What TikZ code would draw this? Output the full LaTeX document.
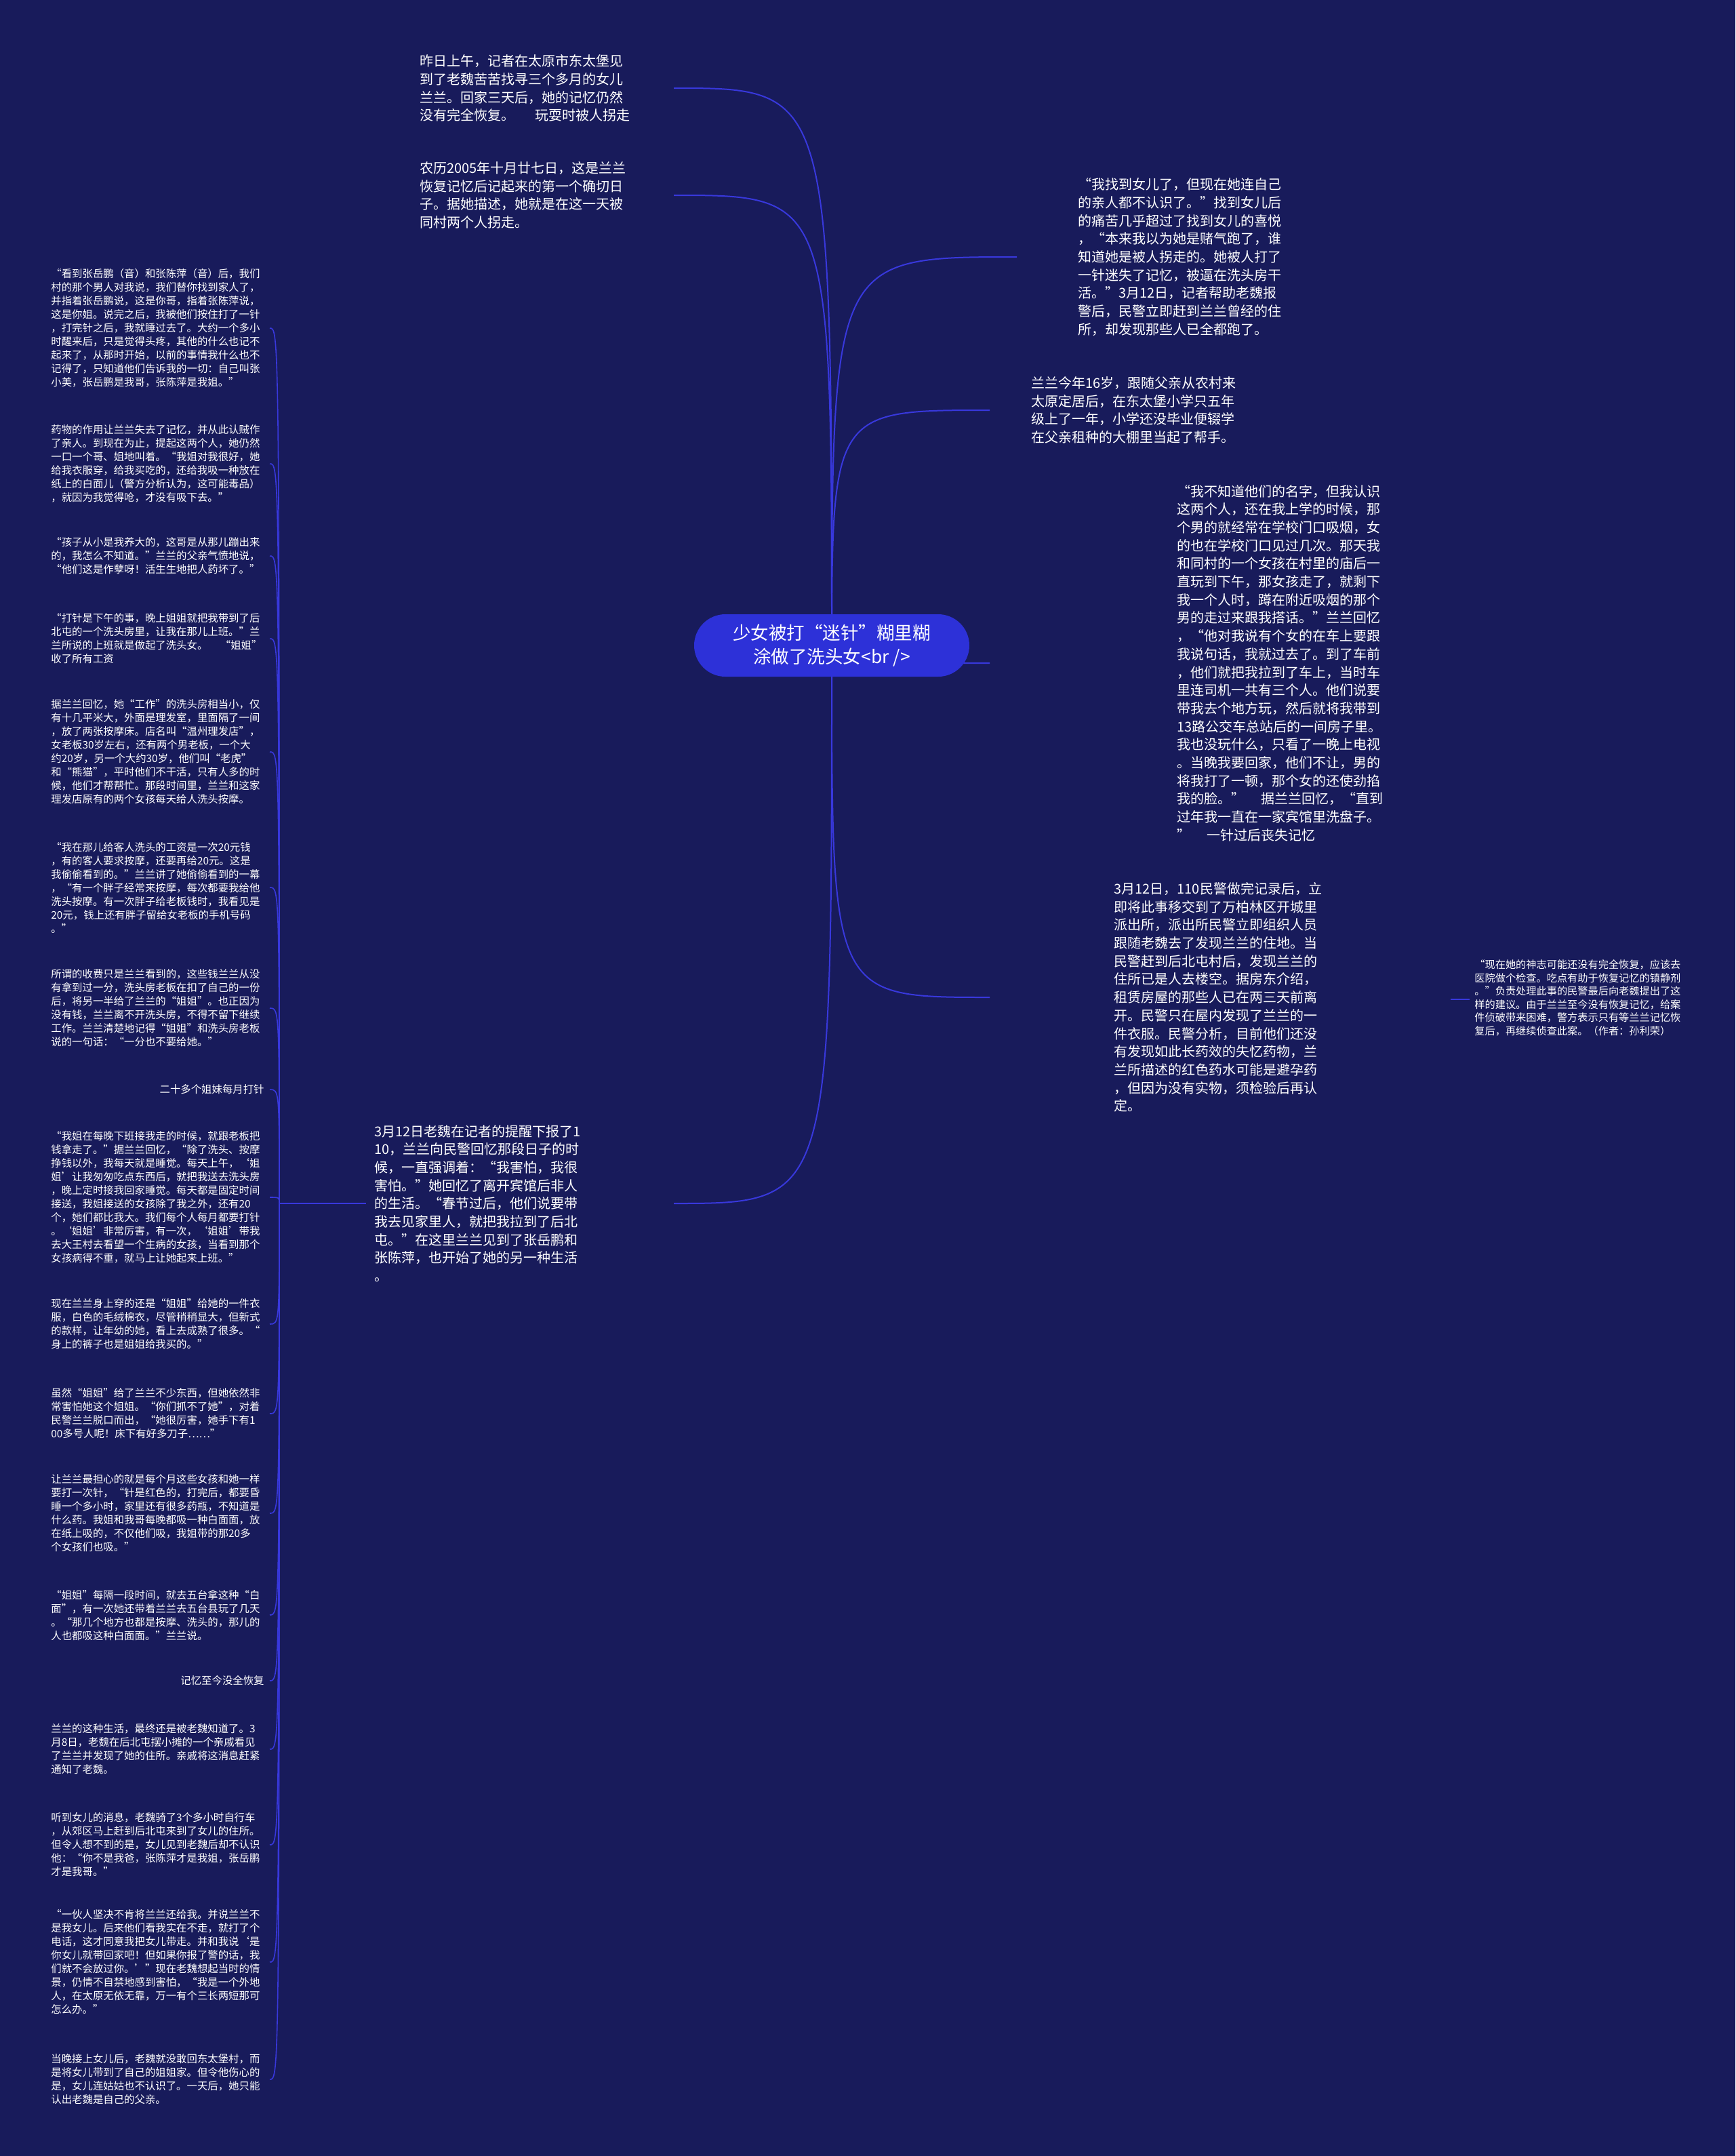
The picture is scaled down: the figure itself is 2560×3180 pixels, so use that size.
\documentclass[tikz,border=0pt]{standalone}
\usepackage{fontspec}
\setmainfont{Noto Sans CJK SC}
\newfontfamily\fwfont[RawFeature=+fwid]{Noto Sans CJK SC}
\usepackage{newunicodechar}
\newunicodechar{“}{{\fwfont\char"201C}}
\newunicodechar{”}{{\fwfont\char"201D}}
\newunicodechar{‘}{{\fwfont\char"2018}}
\newunicodechar{’}{{\fwfont\char"2019}}
\usepackage{tikz}
\usetikzlibrary{calc}

\definecolor{bgnavy}{HTML}{181B5B}
\definecolor{linkblue}{HTML}{3838DC}
\definecolor{rootblue}{HTML}{2D31D8}

\tikzset{
  leaf/.style={text=white, align=left, anchor=west, inner sep=0pt, font=\fontsize{10}{13.35}\selectfont},
  small leaf/.style={leaf, font=\fontsize{7.7}{10}\selectfont},
  tiny leaf/.style={leaf, font=\fontsize{7.6}{9.75}\selectfont},
  link/.style={draw=linkblue, line width=1pt},
  thin link/.style={draw=linkblue, line width=0.8pt},
  root/.style={rectangle, rounded corners=23pt, fill=rootblue, text=white, align=center, minimum width=203pt, minimum height=46pt, font=\fontsize{13.25}{17.5}\selectfont}
}

\begin{document}
\begin{tikzpicture}[x=0.5pt,y=-0.5pt]
\fill[bgnavy] (0,0) rectangle (2560,3180);
\useasboundingbox (0,0) rectangle (2560,3180);

% ends of the connectors
\coordinate (R) at (1227,975);
\coordinate (a1) at (994,130);
\coordinate (b1) at (994,288);
\coordinate (c1) at (1500,379);
\coordinate (d1) at (1460,605);
\coordinate (e1) at (1460,978);
\coordinate (f1) at (1460,1471);
\coordinate (h1) at (994,1775);
\coordinate (h2) at (540,1775);
\coordinate (J) at (412,1775);
\coordinate (f2) at (2140,1474);
\coordinate (g1) at (2168,1474);

\draw[link] (R) .. controls (R |- a1) .. (a1);
\draw[link] (R) .. controls (R |- b1) .. (b1);
\draw[link] (R) .. controls (R |- c1) .. (c1);
\draw[link] (R) .. controls (R |- d1) .. (d1);
\draw[link] (R) .. controls (R |- e1) .. (e1);
\draw[link] (R) .. controls (R |- f1) .. (f1);
\draw[link] (R) .. controls (R |- h1) .. (h1);
\draw[link] (f2) -- (g1);
\draw[thin link] (h2) -- (J);
\foreach \y in {484,684,820,942,1109,1309,1487,1607,1766,1953,2085,2232,2382,2479,2580,2721,2894,3067}
  \draw[thin link] (J) .. controls (412,\y) .. (398,\y);

% centre
\draw (1227,952) node[root] (C0) {少女被打“迷针”糊里糊\\涂做了洗头女<br />};

% first level
\draw (619,130) node[leaf] (A) {昨日上午，记者在太原市东太堡见\\到了老魏苦苦找寻三个多月的女儿\\兰兰。回家三天后，她的记忆仍然\\没有完全恢复。\hspace{1.5em}玩耍时被人拐走};
\draw (619,288) node[leaf] (B) {农历2005年十月廿七日，这是兰兰\\恢复记忆后记起来的第一个确切日\\子。据她描述，她就是在这一天被\\同村两个人拐走。};
\draw (1590,379) node[leaf] (C) {“我找到女儿了，但现在她连自己\\的亲人都不认识了。”找到女儿后\\的痛苦几乎超过了找到女儿的喜悦\\，“本来我以为她是赌气跑了，谁\\知道她是被人拐走的。她被人打了\\一针迷失了记忆，被逼在洗头房干\\活。”3月12日，记者帮助老魏报\\警后，民警立即赶到兰兰曾经的住\\所，却发现那些人已全都跑了。};
\draw (1521,605) node[leaf] (D) {兰兰今年16岁，跟随父亲从农村来\\太原定居后，在东太堡小学只五年\\级上了一年，小学还没毕业便辍学\\在父亲租种的大棚里当起了帮手。};
\draw (1736,978) node[leaf] (E) {“我不知道他们的名字，但我认识\\这两个人，还在我上学的时候，那\\个男的就经常在学校门口吸烟，女\\的也在学校门口见过几次。那天我\\和同村的一个女孩在村里的庙后一\\直玩到下午，那女孩走了，就剩下\\我一个人时，蹲在附近吸烟的那个\\男的走过来跟我搭话。”兰兰回忆\\，“他对我说有个女的在车上要跟\\我说句话，我就过去了。到了车前\\，他们就把我拉到了车上，当时车\\里连司机一共有三个人。他们说要\\带我去个地方玩，然后就将我带到\\13路公交车总站后的一间房子里。\\我也没玩什么，只看了一晚上电视\\。当晚我要回家，他们不让，男的\\将我打了一顿，那个女的还使劲掐\\我的脸。”\hspace{1.2em}据兰兰回忆，“直到\\过年我一直在一家宾馆里洗盘子。\\”\hspace{1.2em}一针过后丧失记忆};
\draw (1643,1471) node[leaf] (F) {3月12日，110民警做完记录后，立\\即将此事移交到了万柏林区开城里\\派出所，派出所民警立即组织人员\\跟随老魏去了发现兰兰的住地。当\\民警赶到后北屯村后，发现兰兰的\\住所已是人去楼空。据房东介绍，\\租赁房屋的那些人已在两三天前离\\开。民警只在屋内发现了兰兰的一\\件衣服。民警分析，目前他们还没\\有发现如此长药效的失忆药物，兰\\兰所描述的红色药水可能是避孕药\\，但因为没有实物，须检验后再认\\定。};
\draw (2175,1472) node[tiny leaf] (G) {“现在她的神志可能还没有完全恢复，应该去\\医院做个检查。吃点有助于恢复记忆的镇静剂\\。”负责处理此事的民警最后向老魏提出了这\\样的建议。由于兰兰至今没有恢复记忆，给案\\件侦破带来困难，警方表示只有等兰兰记忆恢\\复后，再继续侦查此案。（作者：孙利荣）};
\draw (552,1775) node[leaf] (H) {3月12日老魏在记者的提醒下报了1\\10，兰兰向民警回忆那段日子的时\\候，一直强调着：“我害怕，我很\\害怕。”她回忆了离开宾馆后非人\\的生活。“春节过后，他们说要带\\我去见家里人，就把我拉到了后北\\屯。”在这里兰兰见到了张岳鹏和\\张陈萍，也开始了她的另一种生活\\。};

% left column
\draw (75,484) node[small leaf] (L1) {“看到张岳鹏（音）和张陈萍（音）后，我们\\村的那个男人对我说，我们替你找到家人了，\\并指着张岳鹏说，这是你哥，指着张陈萍说，\\这是你姐。说完之后，我被他们按住打了一针\\，打完针之后，我就睡过去了。大约一个多小\\时醒来后，只是觉得头疼，其他的什么也记不\\起来了，从那时开始，以前的事情我什么也不\\记得了，只知道他们告诉我的一切：自己叫张\\小美，张岳鹏是我哥，张陈萍是我姐。”};
\draw (75,684) node[small leaf] (L2) {药物的作用让兰兰失去了记忆，并从此认贼作\\了亲人。到现在为止，提起这两个人，她仍然\\一口一个哥、姐地叫着。“我姐对我很好，她\\给我衣服穿，给我买吃的，还给我吸一种放在\\纸上的白面儿（警方分析认为，这可能毒品）\\，就因为我觉得呛，才没有吸下去。”};
\draw (75,820) node[small leaf] (L3) {“孩子从小是我养大的，这哥是从那儿蹦出来\\的，我怎么不知道。”兰兰的父亲气愤地说，\\“他们这是作孽呀！活生生地把人药坏了。”};
\draw (75,942) node[small leaf] (L4) {“打针是下午的事，晚上姐姐就把我带到了后\\北屯的一个洗头房里，让我在那儿上班。”兰\\兰所说的上班就是做起了洗头女。\hspace{1.2em}“姐姐”\\收了所有工资};
\draw (75,1109) node[small leaf] (L5) {据兰兰回忆，她“工作”的洗头房相当小，仅\\有十几平米大，外面是理发室，里面隔了一间\\，放了两张按摩床。店名叫“温州理发店”，\\女老板30岁左右，还有两个男老板，一个大\\约20岁，另一个大约30岁，他们叫“老虎”\\和“熊猫”，平时他们不干活，只有人多的时\\候，他们才帮帮忙。那段时间里，兰兰和这家\\理发店原有的两个女孩每天给人洗头按摩。};
\draw (75,1309) node[small leaf] (L6) {“我在那儿给客人洗头的工资是一次20元钱\\，有的客人要求按摩，还要再给20元。这是\\我偷偷看到的。”兰兰讲了她偷偷看到的一幕\\，“有一个胖子经常来按摩，每次都要我给他\\洗头按摩。有一次胖子给老板钱时，我看见是\\20元，钱上还有胖子留给女老板的手机号码\\。”};
\draw (75,1487) node[small leaf] (L7) {所谓的收费只是兰兰看到的，这些钱兰兰从没\\有拿到过一分，洗头房老板在扣了自己的一份\\后，将另一半给了兰兰的“姐姐”。也正因为\\没有钱，兰兰离不开洗头房，不得不留下继续\\工作。兰兰清楚地记得“姐姐”和洗头房老板\\说的一句话：“一分也不要给她。”};
\draw (390,1607) node[small leaf, anchor=east] (L8) {二十多个姐妹每月打针};
\draw (75,1766) node[small leaf] (L9) {“我姐在每晚下班接我走的时候，就跟老板把\\钱拿走了。”据兰兰回忆，“除了洗头、按摩\\挣钱以外，我每天就是睡觉。每天上午，‘姐\\姐’让我匆匆吃点东西后，就把我送去洗头房\\，晚上定时接我回家睡觉。每天都是固定时间\\接送，我姐接送的女孩除了我之外，还有20\\个，她们都比我大。我们每个人每月都要打针\\。‘姐姐’非常厉害，有一次，‘姐姐’带我\\去大王村去看望一个生病的女孩，当看到那个\\女孩病得不重，就马上让她起来上班。”};
\draw (75,1953) node[small leaf] (L10) {现在兰兰身上穿的还是“姐姐”给她的一件衣\\服，白色的毛绒棉衣，尽管稍稍显大，但新式\\的款样，让年幼的她，看上去成熟了很多。“\\身上的裤子也是姐姐给我买的。”};
\draw (75,2085) node[small leaf] (L11) {虽然“姐姐”给了兰兰不少东西，但她依然非\\常害怕她这个姐姐。“你们抓不了她”，对着\\民警兰兰脱口而出，“她很厉害，她手下有1\\00多号人呢！床下有好多刀子……”};
\draw (75,2232) node[small leaf] (L12) {让兰兰最担心的就是每个月这些女孩和她一样\\要打一次针，“针是红色的，打完后，都要昏\\睡一个多小时，家里还有很多药瓶，不知道是\\什么药。我姐和我哥每晚都吸一种白面面，放\\在纸上吸的，不仅他们吸，我姐带的那20多\\个女孩们也吸。”};
\draw (75,2382) node[small leaf] (L13) {“姐姐”每隔一段时间，就去五台拿这种“白\\面”，有一次她还带着兰兰去五台县玩了几天\\。“那几个地方也都是按摩、洗头的，那儿的\\人也都吸这种白面面。”兰兰说。};
\draw (390,2479) node[small leaf, anchor=east] (L14) {记忆至今没全恢复};
\draw (75,2580) node[small leaf] (L15) {兰兰的这种生活，最终还是被老魏知道了。3\\月8日，老魏在后北屯摆小摊的一个亲戚看见\\了兰兰并发现了她的住所。亲戚将这消息赶紧\\通知了老魏。};
\draw (75,2721) node[small leaf] (L16) {听到女儿的消息，老魏骑了3个多小时自行车\\，从郊区马上赶到后北屯来到了女儿的住所。\\但令人想不到的是，女儿见到老魏后却不认识\\他：“你不是我爸，张陈萍才是我姐，张岳鹏\\才是我哥。”};
\draw (75,2894) node[small leaf] (L17) {“一伙人坚决不肯将兰兰还给我。并说兰兰不\\是我女儿。后来他们看我实在不走，就打了个\\电话，这才同意我把女儿带走。并和我说‘是\\你女儿就带回家吧！但如果你报了警的话，我\\们就不会放过你。’”现在老魏想起当时的情\\景，仍情不自禁地感到害怕，“我是一个外地\\人，在太原无依无靠，万一有个三长两短那可\\怎么办。”};
\draw (75,3067) node[small leaf] (L18) {当晚接上女儿后，老魏就没敢回东太堡村，而\\是将女儿带到了自己的姐姐家。但令他伤心的\\是，女儿连姑姑也不认识了。一天后，她只能\\认出老魏是自己的父亲。};
\end{tikzpicture}
\end{document}
